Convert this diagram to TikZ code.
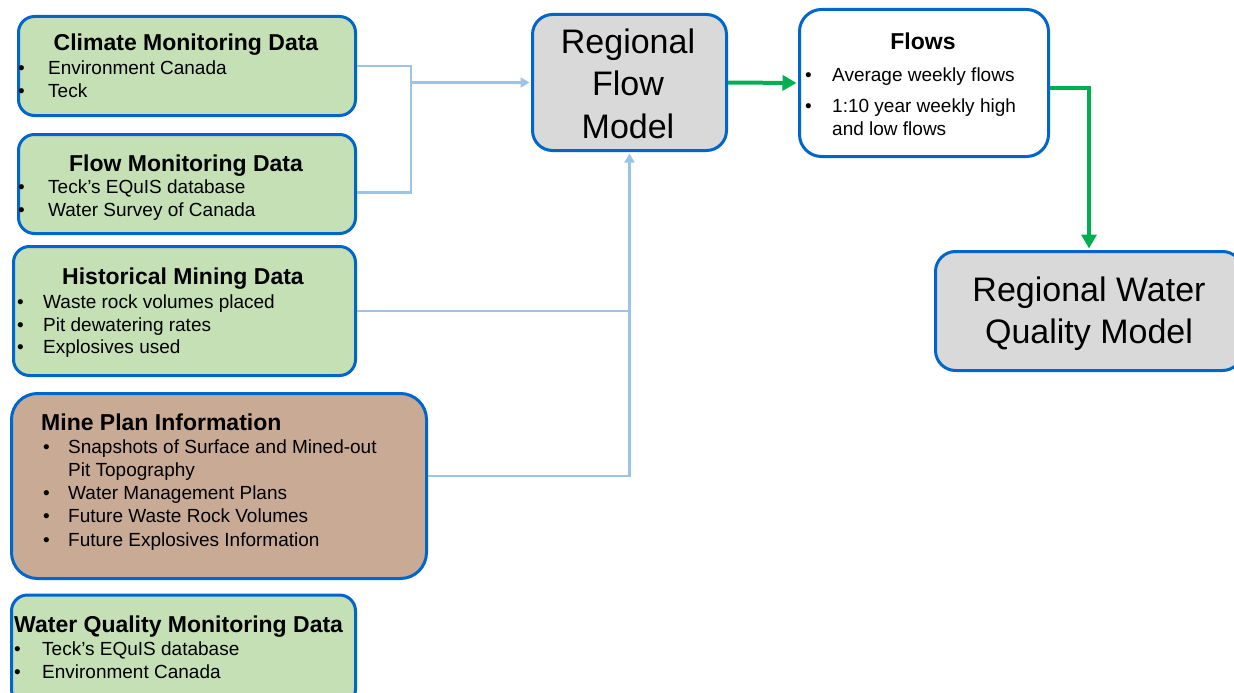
\documentclass[tikz,border=0pt]{standalone}
\usepackage{fontspec}
\setmainfont{Liberation Sans}
\usetikzlibrary{arrows.meta}
\definecolor{edgeblue}{RGB}{0,102,204}
\definecolor{datagreen}{RGB}{197,224,180}
\definecolor{minebrown}{RGB}{201,170,149}
\definecolor{modelgray}{RGB}{217,217,217}
\definecolor{feedblue}{RGB}{157,195,230}
\definecolor{flowgreen}{RGB}{0,176,80}
\newcommand{\bul}[1]{\makebox[#1][l]{\textbullet}}

\begin{document}
\begin{tikzpicture}[x=1pt,y=-1pt]
\tikzstyle{every node}+=[inner sep=0pt]
\tikzstyle{box}=[draw=edgeblue, line width=3pt, rounded corners=16pt]
\tikzstyle{databox}=[box, fill=datagreen]
\tikzstyle{minebox}=[box, fill=minebrown, rounded corners=26pt]
\tikzstyle{modelbox}=[box, fill=modelgray, rounded corners=20pt]
\tikzstyle{headtext}=[anchor=base, font=\fontsize{23}{28}\selectfont\bfseries]
\tikzstyle{lefthead}=[headtext, anchor=base west]
\tikzstyle{itemtext}=[anchor=base west, align=left, font=\fontsize{19}{23}\selectfont]
\tikzstyle{bigtext}=[anchor=base, align=center, font=\fontsize{34}{42}\selectfont]
\tikzstyle{feed}=[draw=feedblue, line width=2.2pt]
\tikzstyle{result}=[draw=flowgreen, line width=4pt]
\useasboundingbox (0,0) rectangle (1234,693);
\clip (0,0) rectangle (1234,693);

\node[databox, minimum width=337, minimum height=99] (climate) at (187,66) {};
\node[headtext] (climate-head) at (186,51) {Climate Monitoring Data};
\node[itemtext] (climate-list) at (18,97.5) {\bul{30pt}Environment Canada\\\bul{30pt}Teck};

\node[databox, minimum width=337, minimum height=99] (flowdata) at (187,184) {};
\node[headtext] (flowdata-head) at (186,171) {Flow Monitoring Data};
\node[itemtext] (flowdata-list) at (18,216.5) {\bul{30pt}Teck’s EQuIS database\\\bul{30pt}Water Survey of Canada};

\node[databox, minimum width=342, minimum height=129] (hist) at (184.5,311) {};
\node[headtext] (hist-head) at (183,284.5) {Historical Mining Data};
\node[itemtext, font=\fontsize{19}{22.5}\selectfont] (hist-list) at (17,353.5) {\bul{26pt}Waste rock volumes placed\\\bul{26pt}Pit dewatering rates\\\bul{26pt}Explosives used};

\node[minebox, minimum width=415, minimum height=185] (mine) at (219,486) {};
\node[lefthead] (mine-head) at (41,430) {Mine Plan Information};
\node[itemtext, font=\fontsize{19}{23.2}\selectfont] (mine-list) at (43,546.1) {\bul{25pt}Snapshots of Surface and Mined-out\\\hspace*{25pt}Pit Topography\\\bul{25pt}Water Management Plans\\\bul{25pt}Future Waste Rock Volumes\\\bul{25pt}Future Explosives Information};

\node[databox, minimum width=344, minimum height=110] (wq) at (183.5,650) {};
\node[lefthead] (wq-head) at (14,632) {Water Quality Monitoring Data};
\node[itemtext, font=\fontsize{19}{23.2}\selectfont] (wq-list) at (14,678.2) {\bul{28pt}Teck’s EQuIS database\\\bul{28pt}Environment Canada};

\node[modelbox, minimum width=194, minimum height=136] (rfm) at (629.5,82.5) {};
\node[bigtext, font=\fontsize{34}{42.5}\selectfont] (rfm-text) at (628,138) {Regional\\Flow\\Model};

\node[box, fill=white, rounded corners=22pt, minimum width=249, minimum height=147] (flows) at (924,83) {};
\node[headtext] (flows-head) at (923,50) {Flows};
\node[itemtext] (flows-list) at (805,135) {\bul{27pt}Average weekly flows\\[7.6pt]\bul{27pt}1:10 year weekly high\\\hspace*{27pt}and low flows};

\node[modelbox, minimum width=307, minimum height=119] (rwqm) at (1089,311) {};
\node[bigtext, font=\fontsize{34}{41.6}\selectfont] (rwqm-text) at (1089,343.3) {Regional Water\\Quality Model};

\coordinate (join) at (411,82.5);
\draw[feed] (climate.east) -| ([yshift=-8.5pt]flowdata.east -| join) -- ([yshift=-8.5pt]flowdata.east);
\draw[feed, -{Triangle[length=9pt,width=10pt]}, shorten >=1.5pt] (join) -- (rfm.west);
\draw[feed] (hist.east) -- (rfm.south |- hist.east);
\draw[feed, -{Triangle[length=9pt,width=10pt]}, shorten >=1.5pt] ([yshift=10pt]mine.east) -| (rfm.south);
\draw[result, -{Triangle[length=14pt,width=15pt]}, shorten >=1.5pt] (rfm.east) -- (flows.west);
\draw[result, -{Triangle[length=14pt,width=15pt]}, shorten >=1.5pt] ([yshift=-5pt]flows.east) -| (rwqm.north);
\end{tikzpicture}
\end{document}
